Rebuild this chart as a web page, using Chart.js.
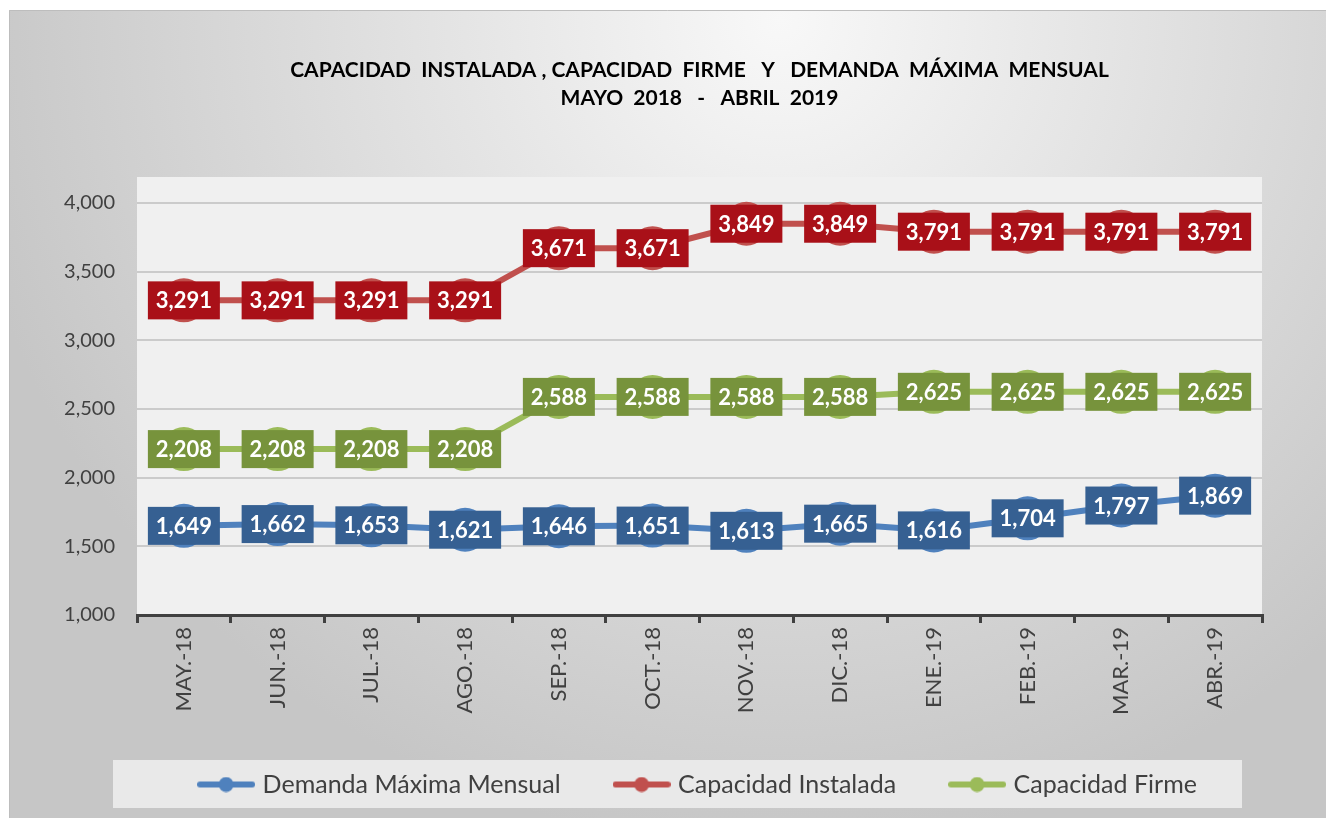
<!DOCTYPE html>
<html>
<head>
<meta charset="utf-8">
<script src="https://cdn.jsdelivr.net/npm/chart.js@4"></script>
<style>
  html, body { margin: 0; padding: 0; background: #fff; }
  #wrap { width: 1326px; height: 818px; }
</style>
</head>
<body>
<div id="wrap"><canvas id="myChart" width="1326" height="818"></canvas></div>
<script>
const months = ['MAY.-18', 'JUN.-18', 'JUL.-18', 'AGO.-18', 'SEP.-18', 'OCT.-18',
    'NOV.-18', 'DIC.-18', 'ENE.-19', 'FEB.-19', 'MAR.-19', 'ABR.-19'];
const demanda = [1649, 1662, 1653, 1621, 1646, 1651, 1613, 1665, 1616, 1704, 1797, 1869];
const instalada = [3291, 3291, 3291, 3291, 3671, 3671, 3849, 3849, 3791, 3791, 3791, 3791];
const firme = [2208, 2208, 2208, 2208, 2588, 2588, 2588, 2588, 2625, 2625, 2625, 2625];
const yTicks = [1000, 1500, 2000, 2500, 3000, 3500, 4000];

const FONT = 'Lato, "Open Sans", sans-serif';

// legend marker: short line with a dot in the middle
function marker(col) {
    const c = document.createElement('canvas');
    c.width = 58; c.height = 16;
    const g = c.getContext('2d');
    g.strokeStyle = col; g.lineWidth = 6; g.lineCap = 'round';
    g.beginPath(); g.moveTo(3, 8); g.lineTo(55, 8); g.stroke();
    g.fillStyle = col;
    g.beginPath(); g.arc(29, 8, 7.5, 0, Math.PI * 2); g.fill();
    return c;
}

const lineCols = ['#4f81bd', '#c0504d', '#9bbb59'];
const boxCols = ['#366092', '#a91018', '#77933c'];
const markers = lineCols.map(marker);

const bgPlugin = {
    id: 'bg',
    beforeDraw(chart) {
        const {ctx, width, height, chartArea: a} = chart;
        ctx.save();
        ctx.fillStyle = '#fff';
        ctx.fillRect(0, 0, width, height);
        const gr = ctx.createRadialGradient(780, 20, 0, 780, 20, 830);
        gr.addColorStop(0, '#f8f8f8');
        gr.addColorStop(1, '#c6c6c6');
        ctx.fillStyle = gr;
        ctx.fillRect(9, 10, width - 9, height - 10);
        ctx.strokeStyle = '#bdbdbd';
        ctx.lineWidth = 1;
        ctx.beginPath();
        ctx.moveTo(9.5, height); ctx.lineTo(9.5, 10.5); ctx.lineTo(width, 10.5);
        ctx.stroke();
        // plot area
        ctx.fillStyle = '#f0f0f0';
        ctx.fillRect(a.left, a.top - 26, a.right - a.left, a.bottom - a.top + 26);
        // legend box
        const lg = chart.legend;
        ctx.fillStyle = '#e9e9e9';
        ctx.fillRect(113, lg.bottom - 47, 1129, 48);
        ctx.restore();
    }
};

const labelPlugin = {
    id: 'boxLabels',
    afterDatasetsDraw(chart) {
        const ctx = chart.ctx;
        ctx.save();
        ctx.font = 'bold 22px ' + FONT;
        ctx.textAlign = 'center';
        ctx.textBaseline = 'middle';
        chart.data.datasets.forEach((ds, i) => {
            chart.getDatasetMeta(i).data.forEach((pt, j) => {
                ctx.fillStyle = boxCols[i];
                ctx.fillRect(pt.x - 36, pt.y - 19, 72, 38);
                ctx.fillStyle = '#fff';
                ctx.fillText(ds.data[j].toLocaleString('en-US'), pt.x, pt.y + 1);
            });
        });
        ctx.restore();
    }
};

function series(label, data, i) {
    return {
        label: label,
        data: data,
        borderColor: lineCols[i],
        backgroundColor: lineCols[i],
        borderWidth: 6,
        pointRadius: 22,
        pointHoverRadius: 22,
        pointBorderWidth: 0,
        pointBackgroundColor: lineCols[i],
        tension: 0,
        clip: false
    };
}

const ctx = document.getElementById('myChart');

new Chart(ctx, {
    type: 'line',
    data: {
        labels: months,
        datasets: [
            series('Demanda Máxima Mensual', demanda, 0),
            series('Capacidad Instalada', instalada, 1),
            series('Capacidad Firme', firme, 2)
        ]
    },
    plugins: [bgPlugin, labelPlugin],
    options: {
        responsive: false,
        animation: false,
        layout: { padding: { left: 10, right: 64, top: 10, bottom: 11 } },
        plugins: {
            tooltip: { enabled: false },
            title: {
                display: true,
                fullSize: false,
                text: ['CAPACIDAD  INSTALADA , CAPACIDAD  FIRME   Y   DEMANDA  MÁXIMA  MENSUAL',
                       'MAYO  2018   -   ABRIL  2019'],
                color: '#000',
                font: { family: FONT, size: 21, weight: 'bold', lineHeight: 1.333 },
                padding: { top: 46, bottom: 91 }
            },
            legend: {
                position: 'bottom',
                fullSize: false,
                labels: {
                    usePointStyle: true,
                    pointStyleWidth: 48,
                    padding: 57,
                    color: '#404040',
                    font: { family: FONT, size: 25 },
                    generateLabels(chart) {
                        return Chart.defaults.plugins.legend.labels.generateLabels(chart)
                            .map((l, i) => Object.assign(l, { pointStyle: markers[i] }));
                    }
                }
            }
        },
        scales: {
            x: {
                offset: true,
                afterFit(s) { s.height = 100; },
                grid: {
                    offset: true,
                    drawOnChartArea: false,
                    drawTicks: true,
                    tickLength: 8,
                    color: '#404040',
                    lineWidth: 3
                },
                border: { color: '#404040', width: 3 },
                ticks: {
                    minRotation: 90,
                    maxRotation: 90,
                    padding: 4,
                    color: '#404040',
                    font: { family: FONT, size: 22 }
                }
            },
            y: {
                min: 1000,
                max: 4000,
                afterFit(s) { s.width = 127; },
                afterBuildTicks(s) { s.ticks = yTicks.map(v => ({ value: v })); },
                grid: { color: '#cbcbcb', lineWidth: 2, drawTicks: false },
                border: { display: false },
                ticks: {
                    padding: 22,
                    color: '#404040',
                    font: { family: FONT, size: 20 },
                    callback: v => v.toLocaleString('en-US')
                }
            }
        }
    }
});
</script>
</body>
</html>
